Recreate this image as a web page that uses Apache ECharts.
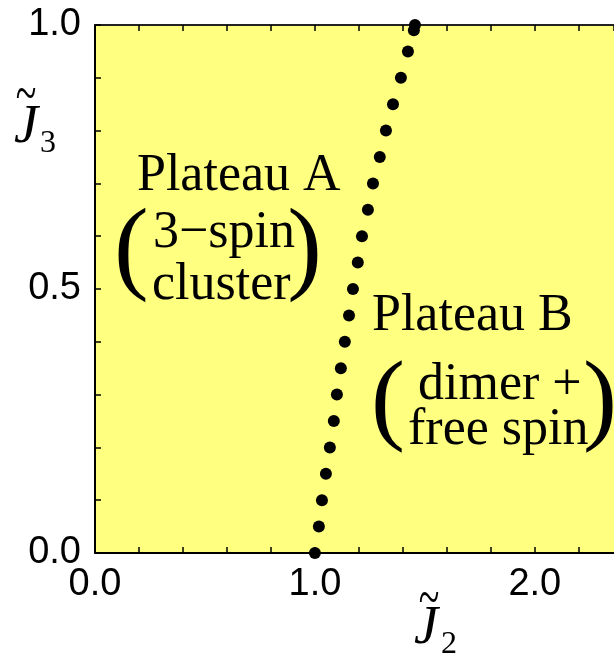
<!DOCTYPE html>
<html>
<head>
<meta charset="utf-8">
<script src="https://cdn.jsdelivr.net/npm/echarts@6/dist/echarts.min.js"></script>
<style>
html,body{margin:0;padding:0;background:#fff;}
#chart{width:614px;height:659px;}
</style>
</head>
<body>
<div id="chart"></div>
<script>
// Phase boundary between Plateau A and Plateau B (J2~, J3~)
var boundaryJ3 = [0, 0.05, 0.10, 0.15, 0.20, 0.25, 0.30, 0.35, 0.40, 0.45, 0.50, 0.55, 0.60, 0.65, 0.70, 0.75, 0.80, 0.85, 0.90, 0.95, 0.99, 1.00];
var boundaryJ2 = [1.000, 1.018, 1.032, 1.050, 1.068, 1.086, 1.100, 1.118, 1.136, 1.155, 1.173, 1.195, 1.214, 1.241, 1.264, 1.295, 1.323, 1.355, 1.391, 1.423, 1.450, 1.455];
var xTickLabels = [0, 1, 2];
var yTickLabels = [0, 0.5, 1];

var points = boundaryJ2.map(function (x, i) { return [x, boundaryJ3[i]]; });

function isLabel(list, v) {
  for (var i = 0; i < list.length; i++) if (Math.abs(list[i] - v) < 1e-6) return true;
  return false;
}

var SANS = "'Liberation Sans', Arial, sans-serif";
var SERIF = "'Liberation Serif', 'Times New Roman', serif";

var chart = echarts.init(document.getElementById('chart'), null, {renderer: 'canvas'});
chart.setOption({
  animation: false,
  backgroundColor: '#ffffff',
  grid: {
    left: 95, top: 25, right: 0, bottom: 106,
    show: true, backgroundColor: '#ffff80', borderWidth: 0
  },
  xAxis: [{
    type: 'value', min: 0, max: 2.36, interval: 0.2, position: 'bottom',
    axisLine: {show: true, onZero: false, lineStyle: {color: '#000', width: 2}},
    axisTick: {show: true, inside: true, length: 6, lineStyle: {color: '#000', width: 1.5}},
    splitLine: {show: false},
    axisLabel: {
      show: true, margin: 13, fontFamily: SANS, fontSize: 38, color: '#000',
      showMaxLabel: false,
      formatter: function (v) { return isLabel(xTickLabels, v) ? v.toFixed(1) : ''; }
    }
  }, {
    type: 'value', min: 0, max: 2.36, interval: 0.2, position: 'top',
    axisLine: {show: true, onZero: false, lineStyle: {color: '#222', width: 2}},
    axisTick: {show: true, inside: true, length: 6, lineStyle: {color: '#000', width: 1.5}},
    splitLine: {show: false},
    axisLabel: {show: false}
  }],
  yAxis: [{
    type: 'value', min: 0, max: 1, interval: 0.1, position: 'left',
    axisLine: {show: true, onZero: false, lineStyle: {color: '#000', width: 2}},
    axisTick: {show: true, inside: true, length: 6, lineStyle: {color: '#000', width: 1.5}},
    splitLine: {show: false},
    axisLabel: {
      show: true, margin: 14, fontFamily: SANS, fontSize: 38, color: '#000',
      formatter: function (v) { return isLabel(yTickLabels, v) ? v.toFixed(1) : ''; }
    }
  }],
  series: [{
    type: 'scatter',
    data: points,
    symbol: 'circle',
    symbolSize: 12,
    itemStyle: {color: '#000', opacity: 1},
    silent: true
  }],
  graphic: [
    // Axis titles
    {type: 'text', x: 26, y: 97, scaleY: 1.5, style: {text: '~', font: '38px ' + SERIF, fill: '#000', align: 'center', verticalAlign: 'middle'}},
    {type: 'text', x: 14, y: 128, style: {text: 'J', font: 'italic 54px ' + SERIF, fill: '#000', align: 'left', verticalAlign: 'middle'}},
    {type: 'text', x: 40, y: 144, style: {text: '3', font: '32px ' + SERIF, fill: '#000', align: 'left', verticalAlign: 'middle'}},
    {type: 'text', x: 429, y: 601, scaleY: 1.5, style: {text: '~', font: '38px ' + SERIF, fill: '#000', align: 'center', verticalAlign: 'middle'}},
    {type: 'text', x: 414, y: 629, style: {text: 'J', font: 'italic 54px ' + SERIF, fill: '#000', align: 'left', verticalAlign: 'middle'}},
    {type: 'text', x: 441, y: 645, style: {text: '2', font: '32px ' + SERIF, fill: '#000', align: 'left', verticalAlign: 'middle'}},
    // Plateau A
    {type: 'text', x: 137, y: 176, style: {text: 'Plateau A', font: '52px ' + SERIF, fill: '#000', align: 'left', verticalAlign: 'middle'}},
    {type: 'text', x: 153, y: 233, style: {text: '3\u2212spin', font: '52px ' + SERIF, fill: '#000', align: 'left', verticalAlign: 'middle'}},
    {type: 'text', x: 152, y: 285, style: {text: 'cluster', font: '52px ' + SERIF, fill: '#000', align: 'left', verticalAlign: 'middle'}},
    {type: 'text', x: 114, y: 253, style: {text: '(', font: '104px ' + SERIF, fill: '#000', align: 'left', verticalAlign: 'middle'}},
    {type: 'text', x: 322, y: 253, style: {text: ')', font: '104px ' + SERIF, fill: '#000', align: 'right', verticalAlign: 'middle'}},
    // Plateau B
    {type: 'text', x: 372, y: 316, style: {text: 'Plateau B', font: '52px ' + SERIF, fill: '#000', align: 'left', verticalAlign: 'middle'}},
    {type: 'text', x: 418, y: 385, style: {text: 'dimer +', font: '52px ' + SERIF, fill: '#000', align: 'left', verticalAlign: 'middle'}},
    {type: 'text', x: 408, y: 430, style: {text: 'free spin', font: '52px ' + SERIF, fill: '#000', align: 'left', verticalAlign: 'middle'}},
    {type: 'text', x: 371, y: 404, style: {text: '(', font: '102px ' + SERIF, fill: '#000', align: 'left', verticalAlign: 'middle'}},
    {type: 'text', x: 617, y: 404, style: {text: ')', font: '102px ' + SERIF, fill: '#000', align: 'right', verticalAlign: 'middle'}}
  ]
});
</script>
</body>
</html>
